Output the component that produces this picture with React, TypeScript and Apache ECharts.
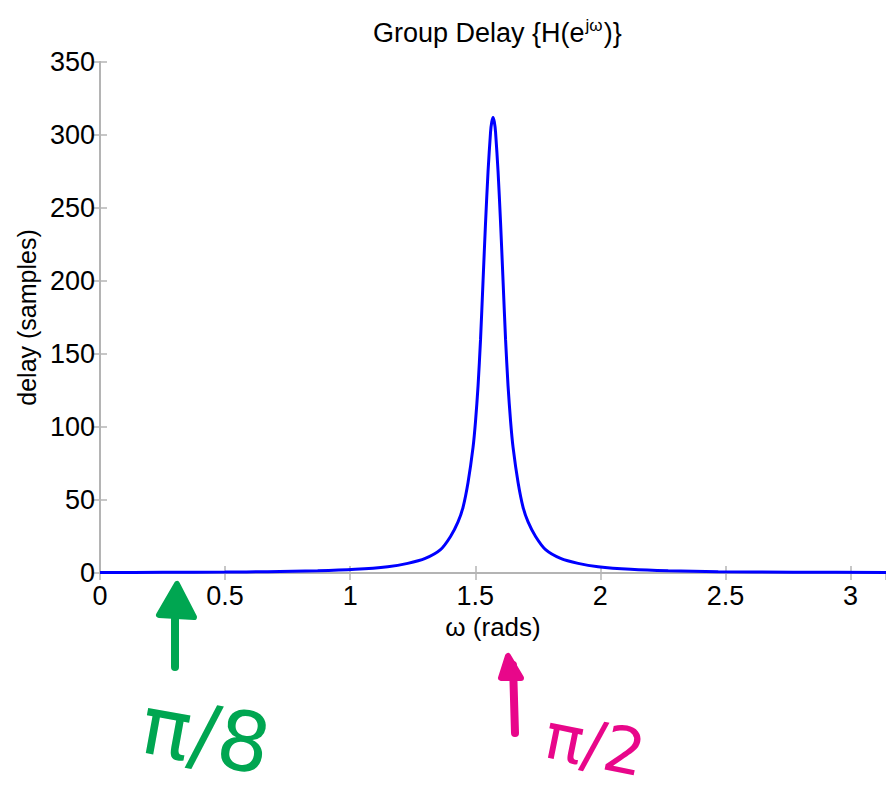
import React, { useEffect, useRef } from "react";
import * as echarts from "echarts";

// Frequency (rad) and group delay (samples)
const omega = [
  0, 0.25, 0.5, 0.67, 0.87, 1.02, 1.15, 1.23, 1.30, 1.361, 1.401, 1.431, 1.451, 1.471,
  1.491, 1.501, 1.511, 1.521, 1.531, 1.541, 1.551, 1.561, 1.566, 1.571, 1.576, 1.581,
  1.591, 1.601, 1.611, 1.621, 1.631, 1.641, 1.651, 1.671, 1.691, 1.711, 1.741, 1.781,
  1.841, 1.911, 1.991, 2.121, 2.271, 2.471, 2.771, 3.1416,
];
const delay = [
  0.35, 0.45, 0.6, 0.9, 1.5, 2.5, 4.3, 6.6, 10, 16, 25, 35, 45, 62,
  86, 104, 128, 160, 200, 240, 275, 302, 309, 312, 309, 302,
  275, 240, 200, 160, 128, 104, 86, 62, 45, 35, 25, 16,
  10, 6.6, 4.3, 2.5, 1.5, 0.9, 0.55, 0.35,
];

const xMin = 0;
const xMax = Math.PI;
const xStep = 0.5;
const yMin = 0;
const yMax = 350;
const yStep = 50;

const titleMain = "Group Delay {H(e";
const titleSup = "jω";
const titleEnd = ")}";
const xName = "ω (rads)";
const yName = "delay (samples)";
const noteLeft = "π/8";
const noteRight = "π/2";

const FONT = "Liberation Sans, Arial, Helvetica, sans-serif";
const AXIS_GRAY = "#b4b4b4";

export default function App() {
  const ref = useRef<HTMLDivElement>(null);
  useEffect(() => {
    if (!ref.current) return;
    const chart = echarts.init(ref.current, undefined, { renderer: "svg" });
    const data = omega.map((w, i) => [w, delay[i]]);
    const axisCommon = {
      axisLine: { show: true, lineStyle: { color: AXIS_GRAY, width: 2 } },
      axisTick: { show: true, inside: true, length: 7, lineStyle: { color: AXIS_GRAY, width: 1.5 } },
      splitLine: { show: false },
    };
    chart.setOption({
      animation: false,
      backgroundColor: "#ffffff",
      title: {
        text: titleMain + "{sup|" + titleSup + "}" + titleEnd,
        left: 368,
        top: 12,
        textStyle: {
          fontFamily: FONT,
          fontSize: 27,
          fontWeight: "normal",
          color: "#000",
          lineHeight: 32,
          rich: {
            sup: { fontFamily: FONT, fontSize: 17, color: "#000", verticalAlign: "top", lineHeight: 16, padding: [0, 1, 10, 1] },
          },
        },
      },
      grid: { left: 100, top: 62, width: 794, height: 511 },
      xAxis: [
        {
          type: "value",
          min: xMin,
          max: xMax,
          interval: xStep,
          position: "bottom",
          name: xName,
          nameLocation: "middle",
          nameGap: 34,
          nameTextStyle: { fontFamily: FONT, fontSize: 26, color: "#000" },
          axisLabel: {
            fontFamily: FONT,
            fontSize: 27,
            color: "#000",
            margin: 9,
            showMaxLabel: false,
            formatter: (v: number) => String(v),
          },
          ...axisCommon,
        },
        {
          type: "value",
          min: xMin,
          max: xMax,
          interval: xStep,
          position: "top",
          axisLabel: { show: false },
          ...axisCommon,
        },
      ],
      yAxis: [
        {
          type: "value",
          min: yMin,
          max: yMax,
          interval: yStep,
          position: "left",
          name: yName,
          nameLocation: "middle",
          nameGap: 52,
          nameTextStyle: { fontFamily: FONT, fontSize: 25, color: "#000" },
          axisLabel: { fontFamily: FONT, fontSize: 27, color: "#000", margin: 5 },
          ...axisCommon,
        },
        {
          type: "value",
          min: yMin,
          max: yMax,
          interval: yStep,
          position: "right",
          axisLabel: { show: false },
          ...axisCommon,
        },
      ],
      series: [
        {
          type: "line",
          data,
          showSymbol: false,
          smooth: 0.25,
          lineStyle: { color: "#0000ff", width: 3 },
          itemStyle: { color: "#0000ff" },
          z: 5,
        },
      ],
      graphic: [
        // green arrow
        { type: "line", shape: { x1: 175, y1: 600, x2: 175, y2: 667 }, style: { stroke: "#00a651", lineWidth: 8, lineCap: "round" } },
        { type: "polygon", shape: { points: [[177, 584], [159, 615], [194, 617]] }, style: { fill: "#00a651", stroke: "#00a651", lineWidth: 6, lineJoin: "round" } },
        {
          type: "text",
          x: 206,
          y: 735,
          rotation: -0.18,
          style: { text: noteLeft, fontFamily: "DejaVu Sans, sans-serif", fontSize: 82, lineHeight: 82, fill: "#00a651", align: "center", verticalAlign: "middle" },
        },
        // magenta arrow
        { type: "line", shape: { x1: 513, y1: 665, x2: 515, y2: 733 }, style: { stroke: "#e8078a", lineWidth: 8, lineCap: "round" } },
        { type: "polygon", shape: { points: [[508, 656], [501, 678], [521, 678]] }, style: { fill: "#e8078a", stroke: "#e8078a", lineWidth: 6, lineJoin: "round" } },
        {
          type: "text",
          x: 595,
          y: 745,
          rotation: -0.2,
          style: { text: noteRight, fontFamily: "DejaVu Sans, sans-serif", fontSize: 64, lineHeight: 64, fill: "#e8078a", align: "center", verticalAlign: "middle" },
        },
      ],
    });
    return () => chart.dispose();
  }, []);
  return <div ref={ref} style={{ width: 886, height: 793, position: "absolute", left: 0, top: 0 }} />;
}
